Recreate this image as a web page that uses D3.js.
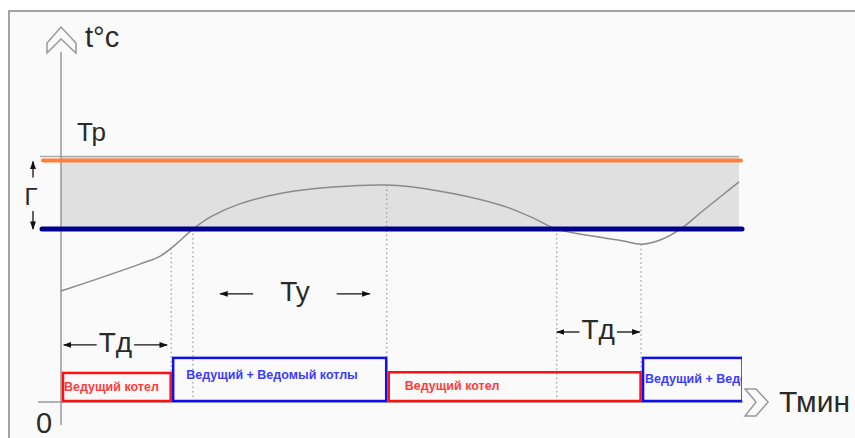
<!DOCTYPE html>
<html>
<head>
<meta charset="utf-8">
<script src="https://cdn.jsdelivr.net/npm/d3@7"></script>
<style>
  body { margin: 0; background: #fff; }
  svg { display: block; }
</style>
</head>
<body>
<svg id="chart" width="855" height="438"></svg>
<script>
//curve of water temperature (time in % of the cycle, temperature in arbitrary units)
var curveTime = [0, 5.7, 11.6, 14.6, 16.8, 19.4, 22.2, 26.3, 32.6, 40, 47.9, 54.7, 64.6, 69.4, 72.9, 79.3, 82.5, 85.4, 88.1, 91.3, 94, 99.7];
var curveTemp = [31.7, 35.4, 39.4, 41.7, 44.9, 49.4, 53.1, 56.6, 59.7, 61.4, 62, 60.6, 56.3, 52.6, 49.4, 47.1, 46.1, 45.1, 46.3, 49.7, 54, 62.9];

//regulation band
var tUpper = 69;     //Тр
var tLower = 49.4;
var bandEnd = 99.7;

//dotted drop lines
var dropTime = [16.2, 19.4, 47.9, 72.9, 85.3];
var dropTemp = [43.9, 49.4, 62, 49.4, 45.1];

//boiler modes along the time axis
var modeStart = [0, 16.2, 47.9, 85.3];
var modeEnd = [16.2, 47.9, 85.3, 100.3];
var modeHeight = [8.3, 12.6, 8.5, 12.6];
var modeLabel = ["Ведущий котел", "Ведущий + Ведомый котлы", "Ведущий котел", "Ведущий + Ведомый котлы"];
var modeKind = ["lead", "both", "lead", "both"];

//time spans with arrows
var spanStart = [0.4, 23.4, 72.9];
var spanEnd = [15.6, 45.4, 85.1];
var spanLevel = [16.3, 30.9, 20];
var spanLabel = ["Тд", "Ty", "Тд"];

var svg = d3.select("#chart");

var x = d3.scaleLinear().domain([0, 100]).range([61, 741]);
var y = d3.scaleLinear().domain([0, 100]).range([402, 52]);

var bigFont = "'Liberation Sans', Arial, sans-serif";
var textColor = "#2a2a2a";

//frame
svg.append("rect")
  .attr("x", 9).attr("y", 11)
  .attr("width", 860).attr("height", 440)
  .attr("fill", "#fafafa")
  .attr("stroke", "#a3a3a3")
  .attr("stroke-width", 2);

var defs = svg.append("defs");
defs.append("marker")
  .attr("id", "head")
  .attr("viewBox", "0 0 10 10")
  .attr("refX", 9).attr("refY", 5)
  .attr("markerWidth", 6.5).attr("markerHeight", 6.5)
  .attr("markerUnits", "strokeWidth")
  .attr("orient", "auto")
  .append("path")
  .attr("d", "M0,1.5 L10,5 L0,8.5 z")
  .attr("fill", "#111");

defs.append("clipPath").attr("id", "plotClip")
  .append("rect")
  .attr("x", 0).attr("y", 0)
  .attr("width", x(100.3) - 1).attr("height", 438);

//band fill
svg.append("rect")
  .attr("x", x(0))
  .attr("y", y(tUpper) - 4)
  .attr("width", x(bandEnd) - x(0))
  .attr("height", y(tLower) - y(tUpper) + 4)
  .attr("fill", "#e0e0e0");

//band top edge
svg.append("line")
  .attr("x1", x(0) - 21).attr("x2", x(bandEnd))
  .attr("y1", y(tUpper) - 4).attr("y2", y(tUpper) - 4)
  .attr("stroke", "#aaaaaa")
  .attr("stroke-width", 1.5);

//axes
svg.append("line")
  .attr("x1", x(0)).attr("x2", x(0))
  .attr("y1", y(100)).attr("y2", 425)
  .attr("stroke", "#999").attr("stroke-width", 1.5);
svg.append("line")
  .attr("x1", 38).attr("x2", x(100.3))
  .attr("y1", y(0)).attr("y2", y(0))
  .attr("stroke", "#999").attr("stroke-width", 1.5);

//axis chevrons
var ax = x(0), ay = y(100);
svg.append("path")
  .attr("d", "M" + (ax - 14) + "," + (ay - 9) + " L" + ax + "," + (ay - 25) + " L" + (ax + 15) + "," + (ay - 9)
    + " L" + (ax + 15) + "," + (ay + 1) + " L" + ax + "," + (ay - 13) + " L" + (ax - 14) + "," + (ay + 1) + " Z")
  .attr("fill", "none").attr("stroke", "#999").attr("stroke-width", 1.5);
var bx = x(100.3) + 2, by = y(0);
svg.append("path")
  .attr("d", "M" + bx + "," + (by - 13) + " L" + (bx + 11) + "," + (by - 13) + " L" + (bx + 23) + "," + by
    + " L" + (bx + 11) + "," + (by + 14) + " L" + bx + "," + (by + 14) + " L" + (bx + 11) + "," + by + " Z")
  .attr("fill", "none").attr("stroke", "#999").attr("stroke-width", 1.5);

//dotted drop lines
svg.selectAll(".drop")
  .data(dropTime)
  .enter().append("line")
  .attr("class", "drop")
  .attr("x1", function(d) { return x(d); })
  .attr("x2", function(d) { return x(d); })
  .attr("y1", function(d, i) { return y(dropTemp[i]); })
  .attr("y2", y(0))
  .attr("stroke", "#9a9a9a")
  .attr("stroke-width", 1.2)
  .attr("stroke-dasharray", "1.5,3");

//temperature curve
var curve = d3.line()
  .x(function(d) { return x(d[0]); })
  .y(function(d) { return y(d[1]); })
  .curve(d3.curveCatmullRom.alpha(0.5));
svg.append("path")
  .datum(d3.zip(curveTime, curveTemp))
  .attr("d", curve)
  .attr("fill", "none")
  .attr("stroke", "#8a8a8a")
  .attr("stroke-width", 1.5);

//Tp and lower lines
svg.append("line")
  .attr("x1", x(0) - 18).attr("x2", x(100))
  .attr("y1", y(tUpper)).attr("y2", y(tUpper))
  .attr("stroke", "#ff7f3a").attr("stroke-width", 4)
  .attr("stroke-linecap", "round");
svg.append("line")
  .attr("x1", x(0) - 19).attr("x2", x(100) + 1)
  .attr("y1", y(tLower)).attr("y2", y(tLower))
  .attr("stroke", "#00008f").attr("stroke-width", 5)
  .attr("stroke-linecap", "round");

//Г bracket
var gx = 33;
svg.append("line")
  .attr("x1", gx).attr("x2", gx)
  .attr("y1", y(tUpper) + 17).attr("y2", y(tUpper) + 1)
  .attr("stroke", "#111").attr("stroke-width", 1.3)
  .attr("marker-end", "url(#head)");
svg.append("line")
  .attr("x1", gx).attr("x2", gx)
  .attr("y1", y(tLower) - 18).attr("y2", y(tLower))
  .attr("stroke", "#111").attr("stroke-width", 1.3)
  .attr("marker-end", "url(#head)");
svg.append("text")
  .attr("x", 31).attr("y", 205)
  .attr("text-anchor", "middle")
  .style("font-family", bigFont).style("font-size", "24px")
  .attr("fill", textColor)
  .text("Г");

//mode boxes
var kindStroke = { lead: "#ff1010", both: "#1010ee" };
var kindText = { lead: "#ff3c3c", both: "#3c3cff" };
var labelDx = [3, 15, 18, 4];
var labelDy = [18, 21, 18, 25];

var boxes = svg.append("g").attr("clip-path", "url(#plotClip)");
boxes.selectAll(".mode")
  .data(modeStart)
  .enter().append("rect")
  .attr("class", "mode")
  .attr("x", function(d) { return x(d) + 2; })
  .attr("y", function(d, i) { return y(modeHeight[i]); })
  .attr("width", function(d, i) { return x(modeEnd[i]) - x(d) - 2.5; })
  .attr("height", function(d, i) { return y(0) - y(modeHeight[i]) - 1; })
  .attr("fill", "none")
  .attr("stroke", function(d, i) { return kindStroke[modeKind[i]]; })
  .attr("stroke-width", 2.5);

boxes.selectAll(".modeLabel")
  .data(modeLabel)
  .enter().append("text")
  .attr("class", "modeLabel")
  .attr("x", function(d, i) { return x(modeStart[i]) + labelDx[i]; })
  .attr("y", function(d, i) { return y(modeHeight[i]) + labelDy[i]; })
  .style("font-family", bigFont)
  .style("font-size", "12.5px")
  .style("font-weight", "bold")
  .attr("fill", function(d, i) { return kindText[modeKind[i]]; })
  .text(function(d) { return d; });

//spans with arrows
spanLabel.forEach(function(label, i) {
  var x0 = x(spanStart[i]), x1 = x(spanEnd[i]), yy = y(spanLevel[i]);
  var mid = (x0 + x1) / 2;
  var t = svg.append("text")
    .attr("x", mid).attr("y", yy + 7)
    .attr("text-anchor", "middle")
    .style("font-family", bigFont).style("font-size", "28px")
    .attr("fill", textColor)
    .text(label);
  var w = t.node().getComputedTextLength();
  var len = Math.min(33, (x1 - x0 - w - 4) / 2);
  svg.append("line")
    .attr("x1", x0 + len).attr("x2", x0)
    .attr("y1", yy).attr("y2", yy)
    .attr("stroke", "#111").attr("stroke-width", 1.3)
    .attr("marker-end", "url(#head)");
  svg.append("line")
    .attr("x1", x1 - len).attr("x2", x1)
    .attr("y1", yy).attr("y2", yy)
    .attr("stroke", "#111").attr("stroke-width", 1.3)
    .attr("marker-end", "url(#head)");
});

//axis texts
svg.append("text")
  .attr("x", 85).attr("y", 47)
  .style("font-family", bigFont).style("font-size", "29px")
  .attr("fill", textColor)
  .text("t°c");
svg.append("text")
  .attr("x", 77).attr("y", 141)
  .style("font-family", bigFont).style("font-size", "26px")
  .attr("fill", textColor)
  .text("Тр");
svg.append("text")
  .attr("x", 779).attr("y", 412)
  .style("font-family", bigFont).style("font-size", "30px")
  .attr("fill", textColor)
  .text("Тмин");
svg.append("text")
  .attr("x", 36).attr("y", 433)
  .style("font-family", bigFont).style("font-size", "29px")
  .attr("fill", textColor)
  .text("0");
</script>
</body>
</html>
